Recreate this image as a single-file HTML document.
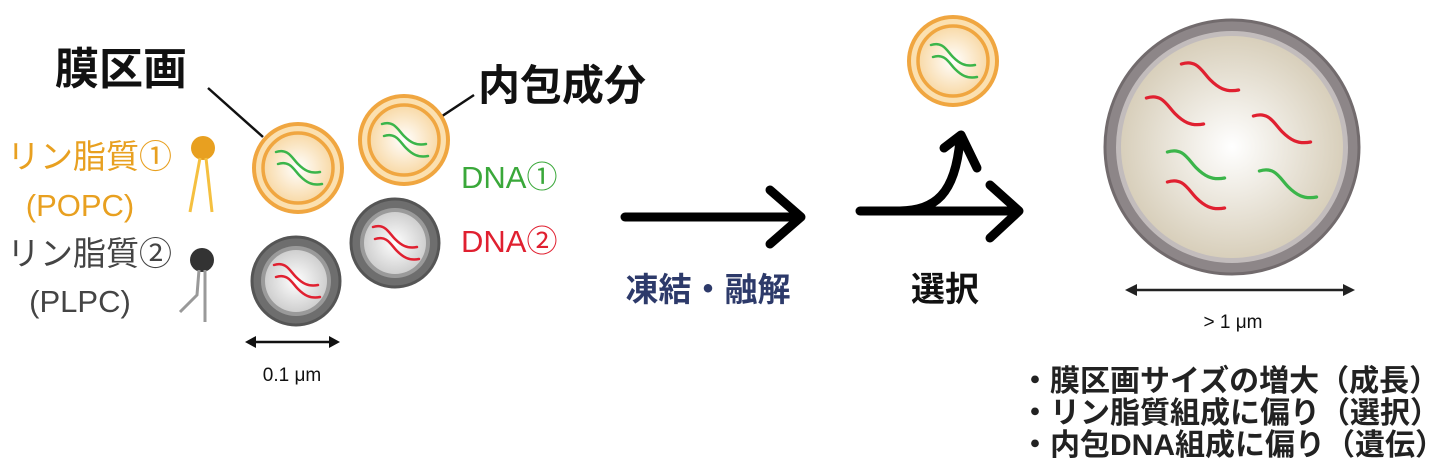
<!DOCTYPE html>
<html><head><meta charset="utf-8"><style>
html,body{margin:0;padding:0;background:#fff;width:1440px;height:466px;overflow:hidden}
svg{display:block}
text{font-family:"Liberation Sans","Noto Sans CJK JP",sans-serif}
</style></head><body>
<svg width="1440" height="466" viewBox="0 0 1440 466" xmlns="http://www.w3.org/2000/svg">
<defs>
<radialGradient id="go" cx="50%" cy="50%" r="50%"><stop offset="0" stop-color="#fff"/><stop offset="1" stop-color="#f8d9a6"/></radialGradient>
<radialGradient id="gg" cx="50%" cy="50%" r="50%"><stop offset="0" stop-color="#fff"/><stop offset="1" stop-color="#cfcfcf"/></radialGradient>
<radialGradient id="gb" cx="50%" cy="50%" r="50%"><stop offset="0" stop-color="#fff"/><stop offset="1" stop-color="#d8cfbb"/></radialGradient>
<g id="ov"><circle r="44" fill="#fbe0b0" stroke="#f0a640" stroke-width="4"/><circle r="35" fill="url(#go)" stroke="#f0a640" stroke-width="3.5"/></g>
<g id="gv"><circle r="44" fill="#6e6e6e" stroke="#555" stroke-width="3"/><circle r="35" fill="#9a9a9a"/><circle r="31" fill="url(#gg)"/></g>
<path id="sq" d="M-22,-10 C-10,-14 -6,-4 0,2 C6,8 12,12 22,10" fill="none" stroke-width="2.5" stroke-linecap="round"/>
</defs>

<text x="55" y="84" font-size="44" font-weight="bold" fill="#111">膜区画</text>
<line x1="208" y1="88" x2="263" y2="137" stroke="#111" stroke-width="2.5"/>
<text x="478" y="100" font-size="42" font-weight="bold" fill="#111">内包成分</text>
<line x1="474" y1="95" x2="418" y2="132" stroke="#111" stroke-width="2.5"/>

<text x="172" y="168" font-size="33" fill="#e8a020" text-anchor="end">リン脂質①</text>
<text x="80" y="216" font-size="31" fill="#e8a020" text-anchor="middle">(POPC)</text>
<text x="172" y="265" font-size="33" fill="#444" text-anchor="end">リン脂質②</text>
<text x="80" y="312" font-size="31" fill="#444" text-anchor="middle">(PLPC)</text>

<circle cx="203" cy="148" r="12" fill="#e8a020"/>
<path d="M200,158 L190,212 M206,158 L212,212" stroke="#f5c040" stroke-width="3" fill="none"/>
<circle cx="202" cy="260" r="12" fill="#333"/>
<path d="M199,270 L197,295 L180,312 M205,270 L205,322" stroke="#999" stroke-width="3" fill="none"/>

<g transform="translate(298,168)"><use href="#ov"/><use href="#sq" stroke="#3bb54a" transform="translate(0,-6)"/><use href="#sq" stroke="#3bb54a" transform="translate(2,6)"/></g>
<g transform="translate(404,140)"><use href="#ov"/><use href="#sq" stroke="#3bb54a" transform="translate(0,-6)"/><use href="#sq" stroke="#3bb54a" transform="translate(2,6)"/></g>
<g transform="translate(296,281)"><use href="#gv"/><use href="#sq" stroke="#e02030" transform="translate(0,-6)"/><use href="#sq" stroke="#e02030" transform="translate(2,6)"/></g>
<g transform="translate(395,243)"><use href="#gv"/><use href="#sq" stroke="#e02030" transform="translate(0,-6)"/><use href="#sq" stroke="#e02030" transform="translate(2,6)"/></g>

<text x="461" y="188" font-size="31" fill="#3aa83a">DNA①</text>
<text x="461" y="252" font-size="31" fill="#e02030">DNA②</text>

<line x1="252" y1="342" x2="333" y2="342" stroke="#111" stroke-width="2.5"/>
<path d="M245,342 L256,336 L256,348 Z M340,342 L329,336 L329,348 Z" fill="#111"/>
<text x="292" y="381" font-size="19" fill="#111" text-anchor="middle">0.1 μm</text>

<g stroke="#000" stroke-width="9" stroke-linecap="round" stroke-linejoin="round" fill="none">
<line x1="625" y1="217" x2="800" y2="217"/>
<polyline points="770,190 801,217 770,244"/>
<line x1="860" y1="211" x2="1018" y2="211"/>
<polyline points="990,185 1019,211 990,238"/>
<path d="M900,211 C935,210 955,195 960,140"/>
<polyline points="944,148 961,135 977,168"/>
</g>
<text x="708" y="301" font-size="33" font-weight="bold" fill="#2d3a6a" text-anchor="middle">凍結・融解</text>
<text x="945" y="301" font-size="34" font-weight="bold" fill="#111" text-anchor="middle">選択</text>

<g transform="translate(953,61)"><use href="#ov"/><use href="#sq" stroke="#3bb54a" transform="translate(0,-6)"/><use href="#sq" stroke="#3bb54a" transform="translate(2,6)"/></g>

<circle cx="1232" cy="147" r="127" fill="#8d8688" stroke="#726b6d" stroke-width="3"/>
<circle cx="1232" cy="147" r="116" fill="#c2bcbc"/>
<circle cx="1232" cy="147" r="111" fill="url(#gb)"/>
<g stroke-width="2.5">
<use href="#sq" stroke="#e02030" transform="translate(1210,77) scale(1.3)"/>
<use href="#sq" stroke="#e02030" transform="translate(1175,111) scale(1.3)"/>
<use href="#sq" stroke="#e02030" transform="translate(1282,129) scale(1.3)"/>
<use href="#sq" stroke="#3bb54a" transform="translate(1196,165) scale(1.3)"/>
<use href="#sq" stroke="#3bb54a" transform="translate(1288,184) scale(1.3)"/>
<use href="#sq" stroke="#e02030" transform="translate(1196,195) scale(1.3)"/>
</g>

<line x1="1132" y1="290" x2="1348" y2="290" stroke="#222" stroke-width="2.5"/>
<path d="M1125,290 L1137,284 L1137,296 Z M1355,290 L1343,284 L1343,296 Z" fill="#222"/>
<text x="1233" y="328" font-size="19" fill="#111" text-anchor="middle">&gt; 1 μm</text>

<g font-size="30" font-weight="bold" fill="#222">
<text x="1020" y="391">・膜区画サイズの増大（成長）</text>
<text x="1020" y="423">・リン脂質組成に偏り（選択）</text>
<text x="1020" y="455">・内包DNA組成に偏り（遺伝）</text>
</g>
</svg>
</body></html>
